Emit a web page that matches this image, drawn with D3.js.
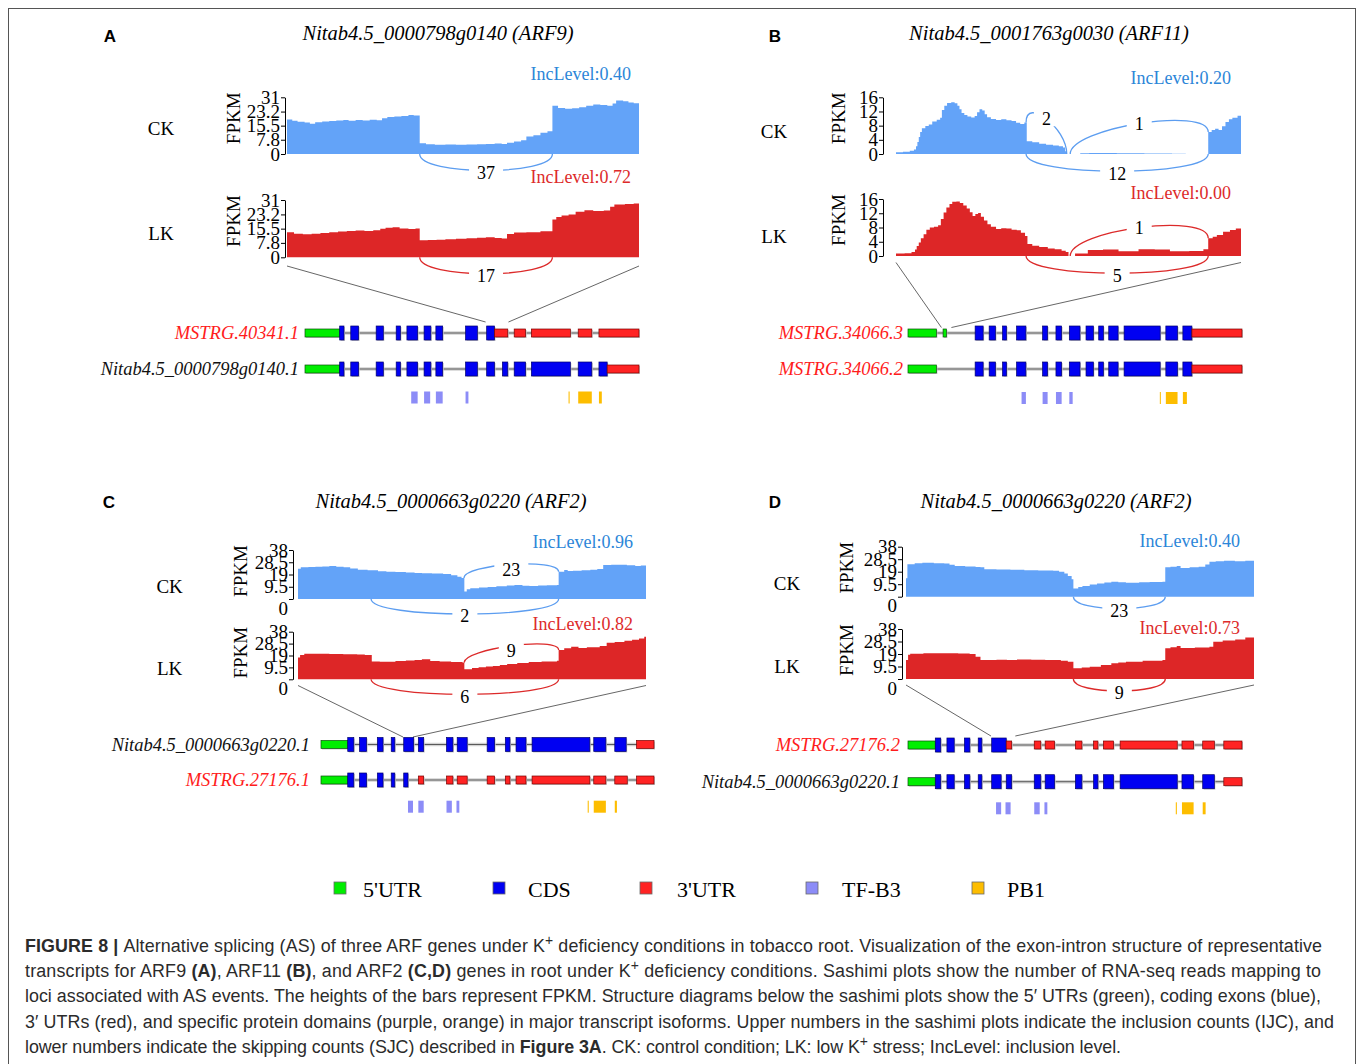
<!DOCTYPE html>
<html>
<head>
<meta charset="utf-8">
<script src="https://cdn.jsdelivr.net/npm/d3@7"></script>
<style>
  body { margin: 0; background: #fff; }
  svg { display: block; }
</style>
</head>
<body>
<svg id="fig" width="1358" height="1064"></svg>
<script>

// ---- coverage tracks: [position (0-1000 across the sashimi window), FPKM] ----
var covA_CK = [[0,18.8],[15,18.2],[30,17.6],[50,17.2],[65,16.5],[80,17.4],[100,17.8],[120,18],[140,18.3],[160,18.6],[175,18.2],[195,18.6],[215,18.3],[235,18.7],[255,18.4],[270,19.6],[285,20.2],[305,20.5],[325,20.8],[345,21.3],[360,21],[377,5.9],[395,5.3],[420,5.1],[450,5.2],[480,5.1],[510,5.2],[540,5.3],[565,5.5],[590,5.7],[610,5.5],[625,6.2],[645,6.8],[665,7.5],[680,9.6],[700,10.3],[720,11.6],[740,12.5],[754,26.4],[770,25.2],[790,24.7],[810,25],[830,25.6],[850,26.4],[870,27],[890,26.8],[910,26.4],[925,27.6],[935,29.2],[955,28.8],[970,28.2],[985,27.8],[1000,27.8]];
var covA_LK = [[0,13.5],[20,12.8],[45,12.5],[70,12.8],[95,13.2],[120,13.5],[145,14],[170,14.2],[195,14.5],[220,14.2],[245,14.6],[265,15.4],[280,16],[300,16.2],[320,15.6],[345,15.3],[365,15.6],[377,9.2],[400,9.3],[425,9.5],[450,9.8],[480,10],[510,10.3],[540,10.6],[565,10.8],[590,10.5],[610,10.2],[625,12.6],[645,13.4],[680,13.6],[720,14.1],[754,20.4],[765,21.8],[780,22.6],[800,23.2],[820,24.6],[845,25.4],[870,25.1],[900,25.3],[918,27.4],[930,28.6],[960,28.8],[985,29.1],[1000,29.1]];

var covB_CK = [[0,0.5],[20,0.6],[40,0.9],[52,1.3],[58,2.2],[62,3.4],[66,4.8],[70,6.2],[75,7.3],[85,7.9],[95,8.3],[105,9.2],[118,9.7],[128,10.2],[133,12.4],[140,13.6],[148,14.4],[160,14.6],[170,14.3],[178,13.6],[184,12.6],[190,11.6],[198,11],[207,10.6],[218,10.3],[228,10.7],[235,11.8],[242,12.6],[250,12.3],[257,11.2],[264,10.4],[275,9.9],[290,9.6],[305,9.8],[320,9.5],[335,9.3],[348,8.8],[360,8.5],[372,8.9],[379,3.6],[395,3.3],[415,2.9],[435,2.6],[455,2.4],[472,2.2],[484,1.8],[490,0.8],[495,0],[534,0.2],[560,0.25],[640,0.2],[720,0.15],[800,0.1],[840,0],[905,6.2],[915,6.8],[925,7.1],[935,6.8],[945,7.8],[955,9],[965,9.8],[975,10.2],[990,10.8],[1000,11]];
var covB_LK = [[0,0.7],[25,0.8],[45,1.1],[55,1.8],[60,2.8],[66,3.8],[72,5],[80,6.1],[88,7.4],[98,8],[110,8.2],[122,8.6],[130,10.4],[138,12.2],[146,13.6],[155,14.6],[163,15.2],[175,15.3],[185,14.9],[195,14.2],[205,13.3],[214,12.3],[222,11.2],[230,11.8],[238,12.1],[246,11],[255,10],[265,8.9],[275,8.2],[290,7.6],[305,7.8],[320,7.7],[335,7.4],[350,7.2],[362,6.5],[374,5.6],[381,3.4],[395,2.9],[415,2.5],[440,2.1],[460,1.9],[480,1.5],[492,1.1],[500,0],[519,0.7],[556,1.7],[600,1.8],[645,1.3],[703,1.9],[750,1.8],[794,1.3],[850,1.4],[891,1.9],[905,5],[918,5.4],[930,5.9],[948,6.8],[968,7.3],[985,7.7],[1000,8.2]];

var covC_CK = [[0,23.5],[8,24.6],[30,24.8],[50,25],[70,25.3],[90,25.6],[110,25.1],[131,24.6],[150,23.6],[172,22.6],[200,22.2],[230,21.6],[254,21.2],[280,20.9],[310,20.6],[335,20.2],[356,19.9],[385,19.7],[417,19.4],[440,18.4],[458,17.3],[470,16.2],[478,5.8],[485,7.6],[495,8.4],[520,9],[545,9.4],[570,9.8],[600,10.4],[622,10.9],[645,10.3],[665,10],[690,10.4],[715,10.6],[744,10.9],[749,21.2],[765,22.5],[775,21.8],[790,21.9],[815,22.2],[840,22.7],[860,23.2],[877,26.3],[900,26.5],[920,26.6],[945,26.1],[969,25.6],[985,26],[1000,26.4]];
var covC_LK = [[0,17.5],[6,19.4],[18,20.3],[50,20.4],[90,20.2],[130,20],[170,19.7],[192,19.4],[212,14.3],[235,14],[254,14],[280,14.6],[310,15],[335,15.4],[356,16],[380,14.6],[407,14.2],[440,13.8],[473,13.3],[478,8],[500,9],[519,9.6],[540,10.2],[560,10.6],[580,11.4],[601,12.2],[630,13.1],[663,13.8],[700,14.3],[744,14.9],[749,23.4],[765,24.7],[785,26],[806,25],[830,25.6],[867,26.6],[887,29.2],[910,29.8],[938,30.8],[960,31.6],[980,32.6],[995,34],[1000,34]];

var covD_CK = [[0,14],[4,24.6],[25,25.4],[47,25.8],[80,25.5],[110,25.3],[125,24.2],[140,23.4],[170,23],[200,22.6],[214,22.3],[225,20.9],[260,20.6],[300,20.4],[340,20.1],[380,20],[423,19.8],[440,19],[455,17.7],[465,15.8],[476,13.2],[481,6.3],[495,7.4],[507,8.1],[528,9.3],[549,10.1],[570,10.8],[590,11.4],[610,11],[632,10.6],[670,11],[700,11.2],[737,11.4],[745,22.3],[760,22.8],[778,23.3],[789,21.8],[815,22.3],[841,22.8],[860,24.4],[872,26.6],[890,27],[914,27.4],[945,26.9],[975,27.4],[1000,27.9]];
var covD_LK = [[0,14.4],[6,18.4],[12,19.2],[50,19.5],[110,19.6],[150,19.3],[183,19],[200,17],[214,14.4],[260,14.6],[290,14.5],[319,14.9],[360,14.7],[400,14.4],[423,14.4],[445,13.8],[465,13.2],[481,8.1],[505,8.8],[528,9.4],[560,10.6],[590,11.9],[610,12.6],[632,13.2],[680,13.8],[737,14.4],[745,23.3],[760,24.2],[778,25.1],[789,23.6],[830,24],[872,24.6],[883,28.4],[910,29.2],[946,30.1],[975,31.6],[1000,33.4]];

// ---- axis ticks ----
var ticksA = [0, 7.8, 15.5, 23.2, 31];
var ticksB = [0, 4, 8, 12, 16];
var ticksCD = [0, 9.5, 19, 28.5, 38];

// ---- inclusion levels [CK, LK] ----
var incA = [0.40, 0.72];
var incB = [0.20, 0.00];
var incC = [0.96, 0.82];
var incD = [0.40, 0.73];

// ---- splice junctions ----
var juncA = [
  {track: "CK", x1: 377, x2: 754, count: 37, side: "below"},
  {track: "LK", x1: 377, x2: 754, count: 17, side: "below"}
];
var juncB = [
  {track: "CK", x1: 377, x2: 495, count: 2, side: "above"},
  {track: "CK", x1: 505, x2: 905, count: 1, side: "above"},
  {track: "CK", x1: 377, x2: 905, count: 12, side: "below"},
  {track: "LK", x1: 505, x2: 905, count: 1, side: "above"},
  {track: "LK", x1: 377, x2: 905, count: 5, side: "below"}
];
var juncC = [
  {track: "CK", x1: 477, x2: 749, count: 23, side: "above"},
  {track: "CK", x1: 210, x2: 749, count: 2, side: "below"},
  {track: "LK", x1: 477, x2: 749, count: 9, side: "above"},
  {track: "LK", x1: 210, x2: 749, count: 6, side: "below"}
];
var juncD = [
  {track: "CK", x1: 481, x2: 745, count: 23, side: "below"},
  {track: "LK", x1: 481, x2: 745, count: 9, side: "below"}
];

var titles = ["Nitab4.5_0000798g0140 (ARF9)", "Nitab4.5_0001763g0030 (ARF11)",
              "Nitab4.5_0000663g0220 (ARF2)", "Nitab4.5_0000663g0220 (ARF2)"];

// ---- transcript structures: [feature, start, end] in gene coordinates ----
var txA1 = {name: "MSTRG.40341.1", novel: true, parts: [
  ["u5",603,700],["cds",700,712],["cds",731,753],["cds",802,822],["cds",858,870],["cds",888,918],["cds",936,955],["cds",969,988],["cds",1052,1085],["cds",1111,1133],
  ["u3",1133,1170],["u3",1188,1220],["u3",1236,1345],["u3",1367,1405],["u3",1425,1537]]};
var txA2 = {name: "Nitab4.5_0000798g0140.1", novel: false, parts: [
  ["u5",603,700],["cds",700,712],["cds",731,753],["cds",802,822],["cds",858,870],["cds",888,918],["cds",936,955],["cds",969,988],["cds",1052,1085],["cds",1111,1133],
  ["cds",1155,1170],["cds",1188,1220],["cds",1236,1345],["cds",1367,1405],["cds",1425,1448],["u3",1448,1537]]};
var domA = [["tf",900,918],["tf",936,953],["tf",969,988],["tf",1052,1060],["pb",1340,1343],["pb",1367,1405],["pb",1425,1433]];
var zoomA = [1108, 1172];

var txB1 = {name: "MSTRG.34066.3", novel: true, parts: [
  ["u5",475,560],["u5",580,590],["cds",676,700],["cds",718,737],["cds",758,770],["cds",800,828],["cds",878,893],["cds",918,935],["cds",958,990],["cds",1008,1030],
  ["cds",1046,1060],["cds",1076,1104],["cds",1122,1230],["cds",1247,1282],["cds",1298,1325],["u3",1325,1475]]};
var txB2 = {name: "MSTRG.34066.2", novel: true, parts: [
  ["u5",475,560],["cds",676,700],["cds",718,737],["cds",758,770],["cds",800,828],["cds",878,893],["cds",918,935],["cds",958,990],["cds",1008,1030],
  ["cds",1046,1060],["cds",1076,1104],["cds",1122,1230],["cds",1247,1282],["cds",1298,1325],["u3",1325,1475]]};
var domB = [["tf",815,828],["tf",878,893],["tf",918,935],["tf",958,968],["pb",1229,1232],["pb",1247,1282],["pb",1298,1310]];
var zoomB = [575, 605];

var txC1 = {name: "Nitab4.5_0000663g0220.1", novel: false, parts: [
  ["u5",618,693],["cds",693,710],["cds",726,746],["cds",776,792],["cds",815,825],["cds",850,878],["cds",891,906],["cds",970,988],["cds",1000,1028],
  ["cds",1084,1105],["cds",1135,1148],["cds",1165,1193],["cds",1210,1372],["cds",1383,1417],["cds",1442,1474],["u3",1503,1552]]};
var txC2 = {name: "MSTRG.27176.1", novel: true, parts: [
  ["u5",618,693],["cds",693,710],["cds",726,746],["cds",776,792],["cds",815,825],["cds",850,862],["u3",891,906],["u3",970,988],["u3",1000,1028],
  ["u3",1084,1105],["u3",1135,1148],["u3",1165,1193],["u3",1210,1372],["u3",1383,1417],["u3",1442,1477],["u3",1503,1552]]};
var domC = [["tf",862,876],["tf",891,906],["tf",970,985],["tf",998,1006],["pb",1366,1369],["pb",1383,1417],["pb",1442,1448]];
var zoomC = [848, 876];

var txD1 = {name: "MSTRG.27176.2", novel: true, parts: [
  ["u5",600,675],["cds",675,690],["cds",707,727],["cds",755,770],["cds",793,803],["cds",830,870],["u3",870,885],["u3",947,965],["u3",977,1003],
  ["u3",1060,1078],["u3",1110,1122],["u3",1137,1165],["u3",1183,1340],["u3",1353,1385],["u3",1410,1442],["u3",1468,1518]]};
var txD2 = {name: "Nitab4.5_0000663g0220.1", novel: false, parts: [
  ["u5",600,675],["cds",675,690],["cds",707,727],["cds",755,770],["cds",793,803],["cds",830,856],["cds",870,885],["cds",947,965],["cds",977,1003],
  ["cds",1060,1078],["cds",1110,1122],["cds",1137,1165],["cds",1183,1340],["cds",1353,1385],["cds",1410,1442],["u3",1468,1518]]};
var domD = [["tf",842,856],["tf",868,882],["tf",947,962],["tf",975,983],["pb",1336,1339],["pb",1353,1385],["pb",1410,1418]];
var zoomD = [828, 895];

var legendItems = [["u5","5'UTR"],["cds","CDS"],["u3","3'UTR"],["tf","TF-B3"],["pb","PB1"]];

var captionLines = [
  [["FIGURE 8 | ","b"],["Alternative splicing (AS) of three ARF genes under K"],["+","sup"],[" deficiency conditions in tobacco root. Visualization of the exon-intron structure of representative"]],
  [["transcripts for ARF9 "],["(A)","b"],[", ARF11 "],["(B)","b"],[", and ARF2 "],["(C,D)","b"],[" genes in root under K"],["+","sup"],[" deficiency conditions. Sashimi plots show the number of RNA-seq reads mapping to"]],
  [["loci associated with AS events. The heights of the bars represent FPKM. Structure diagrams below the sashimi plots show the 5\u2032 UTRs (green), coding exons (blue),"]],
  [["3\u2032 UTRs (red), and specific protein domains (purple, orange) in major transcript isoforms. Upper numbers in the sashimi plots indicate the inclusion counts (IJC), and"]],
  [["lower numbers indicate the skipping counts (SJC) described in "],["Figure 3A","b"],[". CK: control condition; LK: low K"],["+","sup"],[" stress; IncLevel: inclusion level."]]
];

// ---- layout (pixel positions) ----
var layoutA = {letter:[110,36], title:[438,33], sx:[287,639], axisX:285, labelX:161, fpkmX:233, incX:631,
  tracks:{CK:{top:97.3, base:154, inc:74, label:128.3}, LK:{top:200, base:257.3, inc:177, label:233.3}},
  gx:[305,639], rows:[333,369], nameX:299, domY:397.5, lineY:[266,322], belowH:22, aboveH:24, aboveDy:0, zeroDy:0};
var layoutB = {letter:[775,36], title:[1049,33], sx:[896,1241], axisX:883, labelX:774, fpkmX:838, incX:1231,
  tracks:{CK:{top:97.3, base:154, inc:78, label:131.7}, LK:{top:199, base:256, inc:192.5, label:236}},
  gx:[908,1242], rows:[333,369], nameX:903, domY:398, lineY:[262.5,327.5], belowH:23, aboveH:26, aboveDy:0, zeroDy:0};
var layoutC = {letter:[109,502], title:[451,501], sx:[298,646], axisX:293, labelX:169.6, fpkmX:240, incX:633,
  tracks:{CK:{top:550, base:599, inc:542, label:586.7}, LK:{top:631.7, base:679.3, inc:624, label:668.3}},
  gx:[321,654], rows:[744.5,780], nameX:310, domY:806.7, lineY:[685.5,737], belowH:20, aboveH:14, aboveDy:5, zeroDy:9};
var layoutD = {letter:[775,502], title:[1056,501], sx:[906,1254], axisX:902, labelX:787, fpkmX:846, incX:1240,
  tracks:{CK:{top:546.7, base:596.7, inc:540.7, label:583.3}, LK:{top:629, base:679, inc:627.5, label:666.7}},
  gx:[908,1242], rows:[745,781.7], nameX:900, domY:808.3, lineY:[685,736], belowH:16, aboveH:14, aboveDy:0, zeroDy:9};
var legendLayout = {square:[334,493,640,806,972], text:[363,528,677,842,1007], y:888};

var panels = [
  {id:"A", title:titles[0], cov:{CK:covA_CK, LK:covA_LK}, ticks:ticksA, inc:incA, junc:juncA, tx:[txA1,txA2], dom:domA, zoom:zoomA, L:layoutA},
  {id:"B", title:titles[1], cov:{CK:covB_CK, LK:covB_LK}, ticks:ticksB, inc:incB, junc:juncB, tx:[txB1,txB2], dom:domB, zoom:zoomB, L:layoutB},
  {id:"C", title:titles[2], cov:{CK:covC_CK, LK:covC_LK}, ticks:ticksCD, inc:incC, junc:juncC, tx:[txC1,txC2], dom:domC, zoom:zoomC, L:layoutC},
  {id:"D", title:titles[3], cov:{CK:covD_CK, LK:covD_LK}, ticks:ticksCD, inc:incD, junc:juncD, tx:[txD1,txD2], dom:domD, zoom:zoomD, L:layoutD}
];

var serif = "'Liberation Serif','Times New Roman',serif";
var fills = {CK: "#63a3f8", LK: "#dd2627"};
var arcColors = {CK: "#5c9df0", LK: "#dc2a2a"};
var incColors = {CK: "#2c86d8", LK: "#dd2a2a"};
var featFill = {u5: "#00ee00", cds: "#0000f2", u3: "#ff2323", tf: "#8c8cf7", pb: "#fdbd00"};
var featStroke = {u5: "#0b4d0b", cds: "#00006e", u3: "#7a0000", tf: "#7777cc", pb: "#b08400"};
var featH = {u5: 8, cds: 14, u3: 8};

var svg = d3.select("#fig");

svg.append("rect")
  .attr("x", 8.5).attr("y", 8.5)
  .attr("width", 1347).attr("height", 1080)
  .attr("fill", "none").attr("stroke", "#555").attr("stroke-width", 1);

var bisect = d3.bisector(function(d) { return d[0]; }).right;
function covAt(data, pos) {
  var i = bisect(data, pos) - 1;
  return i < 0 ? 0 : data[i][1];
}

function drawPanel(p) {
  var L = p.L;
  var g = svg.append("g").attr("class", "panel panel-" + p.id);

  g.append("text")
    .attr("x", L.letter[0]).attr("y", L.letter[1]).attr("dy", "0.35em")
    .attr("text-anchor", "middle")
    .style("font-family", "'Liberation Sans',Arial,sans-serif")
    .style("font-weight", "bold").style("font-size", "17px")
    .text(p.id);

  g.append("text")
    .attr("x", L.title[0]).attr("y", L.title[1]).attr("dy", "0.35em")
    .attr("text-anchor", "middle")
    .style("font-family", serif).style("font-style", "italic").style("font-size", "20.5px")
    .text(p.title);

  var x = d3.scaleLinear().domain([0, 1000]).range(L.sx);
  var ymax = d3.max(p.ticks);

  ["CK", "LK"].forEach(function(cond, ci) {
    var T = L.tracks[cond];
    var data = p.cov[cond];
    var y = d3.scaleLinear().domain([0, ymax]).range([T.base, T.top]);

    var area = d3.area()
      .curve(d3.curveStepAfter)
      .x(function(d) { return x(d[0]); })
      .y0(T.base)
      .y1(function(d) { return y(d[1]); });

    g.append("path").datum(data)
      .attr("d", area)
      .attr("fill", fills[cond]);

    // junction arcs
    p.junc.filter(function(j) { return j.track === cond; }).forEach(function(j) {
      var x1 = x(j.x1), x2 = x(j.x2), mx = (x1 + x2) / 2, my;
      var pth = d3.path();
      if (j.side === "below") {
        pth.moveTo(x1, T.base);
        pth.bezierCurveTo(x1, T.base + L.belowH, x2, T.base + L.belowH, x2, T.base);
        my = T.base + 0.75 * L.belowH + 2;
      } else {
        var ya = y(covAt(data, j.x1 - 0.5)), yb = y(covAt(data, j.x2 + 0.5));
        pth.moveTo(x1, ya);
        pth.bezierCurveTo(x1, ya - L.aboveH, x2, yb - L.aboveH, x2, yb);
        my = (ya + yb) / 2 - 0.75 * L.aboveH + L.aboveDy;
      }
      g.append("path")
        .attr("d", pth.toString())
        .attr("fill", "none")
        .attr("stroke", arcColors[cond])
        .attr("stroke-width", 1.3);
      var w = String(j.count).length * 9 + 16;
      g.append("rect")
        .attr("x", mx - w / 2).attr("y", my - 7.5)
        .attr("width", w).attr("height", 15)
        .attr("fill", "#fff");
      g.append("text")
        .attr("x", mx).attr("y", my).attr("dy", "0.35em")
        .attr("text-anchor", "middle")
        .style("font-family", serif).style("font-size", "18px")
        .text(j.count);
    });

    // y axis
    var ax = g.append("g")
      .attr("transform", "translate(" + L.axisX + ",0)")
      .call(d3.axisLeft(y).tickValues(p.ticks).tickSize(4).tickSizeOuter(0).tickPadding(1)
        .tickFormat(function(d) { return String(d); }));
    ax.attr("font-family", serif).attr("font-size", 19);
    ax.selectAll("line, path").attr("stroke", "#000");
    ax.selectAll(".tick text").attr("fill", "#000")
      .filter(function(d) { return d === 0; })
      .attr("transform", "translate(0," + L.zeroDy + ")");

    g.append("text")
      .attr("transform", "translate(" + L.fpkmX + "," + (T.top + 21) + ") rotate(-90)")
      .attr("dy", "0.35em").attr("text-anchor", "middle")
      .style("font-family", serif).style("font-size", "19px")
      .text("FPKM");

    g.append("text")
      .attr("x", L.labelX).attr("y", T.label).attr("dy", "0.35em")
      .attr("text-anchor", "middle")
      .style("font-family", serif).style("font-size", "19px")
      .text(cond);

    g.append("text")
      .attr("x", L.incX).attr("y", T.inc).attr("dy", "0.35em")
      .attr("text-anchor", "end")
      .style("font-family", serif).style("font-size", "18px")
      .attr("fill", incColors[cond])
      .text("IncLevel:" + d3.format(".2f")(p.inc[ci]));
  });

  // gene structures
  var parts = p.tx.reduce(function(a, t) { return a.concat(t.parts); }, []);
  var gx = d3.scaleLinear()
    .domain([d3.min(parts, function(d) { return d[1]; }), d3.max(parts, function(d) { return d[2]; })])
    .range(L.gx);

  [0, 1].forEach(function(k) {
    g.append("line")
      .attr("x1", L.sx[k]).attr("y1", L.lineY[0])
      .attr("x2", gx(p.zoom[k])).attr("y2", L.lineY[1])
      .attr("stroke", "#555").attr("stroke-width", 0.9);
  });

  p.tx.forEach(function(t, ti) {
    var ry = L.rows[ti];
    var s = d3.min(t.parts, function(d) { return d[1]; }), e = d3.max(t.parts, function(d) { return d[2]; });
    g.append("line").attr("x1", gx(s)).attr("x2", gx(e)).attr("y1", ry).attr("y2", ry)
      .attr("stroke", "#d2d2d2").attr("stroke-width", 3.5);
    g.append("line").attr("x1", gx(s)).attr("x2", gx(e)).attr("y1", ry).attr("y2", ry)
      .attr("stroke", "#5a5a5a").attr("stroke-width", 1);

    g.selectAll(null).data(t.parts).enter().append("rect")
      .attr("x", function(d) { return gx(d[1]) + 1; })
      .attr("y", function(d) { return ry - featH[d[0]] / 2 + 1; })
      .attr("width", function(d) { return gx(d[2]) - gx(d[1]); })
      .attr("height", function(d) { return featH[d[0]]; })
      .attr("fill", "#c8c8c8");
    g.selectAll(null).data(t.parts).enter().append("rect")
      .attr("x", function(d) { return gx(d[1]); })
      .attr("y", function(d) { return ry - featH[d[0]] / 2; })
      .attr("width", function(d) { return gx(d[2]) - gx(d[1]); })
      .attr("height", function(d) { return featH[d[0]]; })
      .attr("fill", function(d) { return featFill[d[0]]; })
      .attr("stroke", function(d) { return featStroke[d[0]]; })
      .attr("stroke-width", 0.7);

    g.append("text")
      .attr("x", L.nameX).attr("y", ry).attr("dy", "0.35em")
      .attr("text-anchor", "end")
      .style("font-family", serif).style("font-style", "italic").style("font-size", "18.5px")
      .attr("fill", t.novel ? "#ff1c1c" : "#111")
      .text(t.name);
  });

  g.selectAll(null).data(p.dom).enter().append("rect")
    .attr("x", function(d) { return gx(d[1]); })
    .attr("y", L.domY - 6)
    .attr("width", function(d) { return Math.max(1, gx(d[2]) - gx(d[1])); })
    .attr("height", 12)
    .attr("fill", function(d) { return featFill[d[0]]; });
}

panels.forEach(drawPanel);

// legend
var leg = svg.append("g").attr("class", "legend");
legendItems.forEach(function(d, i) {
  leg.append("rect")
    .attr("x", legendLayout.square[i]).attr("y", legendLayout.y - 6)
    .attr("width", 12).attr("height", 12)
    .attr("fill", featFill[d[0]])
    .attr("stroke", "#6a6a6a").attr("stroke-width", 0.8);
  leg.append("text")
    .attr("x", legendLayout.text[i]).attr("y", legendLayout.y + 1).attr("dy", "0.35em")
    .style("font-family", serif).style("font-size", "22px")
    .text(d[1]);
});

// caption: size the font so each line fits its width naturally, then pin the width
var capEnds = [1322, 1321, 1321, 1334, 1121];
var capFont = 19;
var cap = svg.append("g").attr("class", "caption")
  .style("font-family", "'Liberation Sans Narrow','Liberation Sans',Arial,sans-serif")
  .attr("fill", "#2b2b2b");

function buildCaption(fs) {
  cap.selectAll("*").remove();
  return captionLines.map(function(line, i) {
    var t = cap.append("text")
      .attr("x", 25).attr("y", 952 + i * 25.2)
      .style("font-size", fs + "px");
    line.forEach(function(seg, k) {
      var ts = t.append("tspan").text(seg[0]);
      if (seg[1] === "b") ts.style("font-weight", "bold");
      if (seg[1] === "sup") ts.attr("dy", -0.38 * fs).style("font-size", (fs * 0.78) + "px");
      if (k > 0 && line[k - 1][1] === "sup") ts.attr("dy", 0.38 * fs);
    });
    return t;
  });
}

var capTexts = buildCaption(capFont);
var ratio = d3.min(capTexts.slice(0, 4), function(t, i) {
  return (capEnds[i] - 25) / t.node().getComputedTextLength();
});
if (ratio < 1) capFont = Math.max(15, capFont * ratio);
capTexts = buildCaption(capFont);
capTexts.forEach(function(t, i) {
  t.attr("textLength", capEnds[i] - 25).attr("lengthAdjust", "spacing");
});

</script>
</body>
</html>
